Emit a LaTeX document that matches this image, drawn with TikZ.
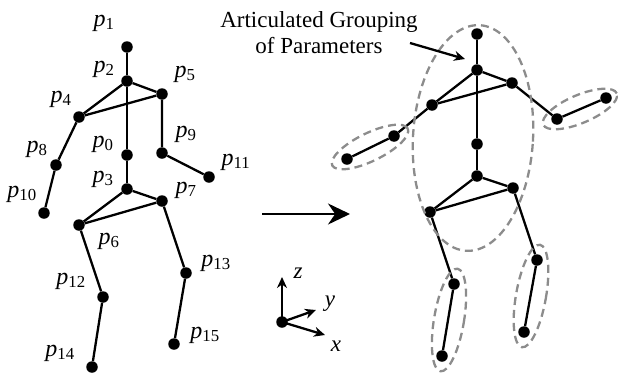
\documentclass[tikz,border=0pt]{standalone}
\usepackage{fontspec}
\setmainfont{Liberation Serif}
\usepackage{tikz}
\usetikzlibrary{arrows.meta, shapes.geometric}
\definecolor{groupgray}{RGB}{140,140,140}
\newcommand{\plab}[1]{\textit{p}\textsubscript{#1}}
\tikzset{
    joint_style/.style={
        circle,               % 关节为实心圆
        fill=black,
        inner sep=0pt,
        minimum size=11.5pt
    },
    bone_style/.style={
        line width=2.3pt      % 骨骼连线
    },
    label_style/.style={
        inner sep=0pt,
        font=\fontsize{24}{28}\selectfont
    },
    group_style/.style={
        ellipse,              % 参数分组的虚线椭圆
        draw=groupgray,
        line width=2.3pt,
        dash pattern=on 8pt off 5pt,
        inner sep=0pt
    },
    arrow_style/.style={
        -{Stealth[length=22pt, width=21pt]},
        line width=2.3pt
    },
    small_arrow_style/.style={
        -{Stealth[length=11pt, width=10pt]},
        line width=2.3pt
    }
}

\begin{document}
\begin{tikzpicture}[x=1pt, y=-1pt]
    \useasboundingbox (0,0) rectangle (618,375);

    % 1. 左侧骨架的关节
    \node[joint_style] (p0) at (127,155) {};
    \node[joint_style] (p1) at (127,47) {};
    \node[joint_style] (p2) at (127,81) {};
    \node[joint_style] (p3) at (127,189) {};
    \node[joint_style] (p4) at (79,117) {};
    \node[joint_style] (p5) at (162,94) {};
    \node[joint_style] (p6) at (79,225) {};
    \node[joint_style] (p7) at (162,201) {};
    \node[joint_style] (p8) at (56,165) {};
    \node[joint_style] (p9) at (162,153) {};
    \node[joint_style] (p10) at (44,213) {};
    \node[joint_style] (p11) at (209,177) {};
    \node[joint_style] (p12) at (103,297) {};
    \node[joint_style] (p13) at (186,273) {};
    \node[joint_style] (p14) at (92,367) {};
    \node[joint_style] (p15) at (174,344) {};

    % 2. 左侧骨架的标签
    \node[label_style] (l0) at (103,144) {\plab{0}};
    \node[label_style] (l1) at (104,23) {\plab{1}};
    \node[label_style] (l2) at (104,69) {\plab{2}};
    \node[label_style] (l3) at (103,179) {\plab{3}};
    \node[label_style] (l4) at (61,99) {\plab{4}};
    \node[label_style] (l5) at (185,74) {\plab{5}};
    \node[label_style] (l6) at (109,241) {\plab{6}};
    \node[label_style] (l7) at (186,190) {\plab{7}};
    \node[label_style] (l8) at (37,149) {\plab{8}};
    \node[label_style] (l9) at (186,134) {\plab{9}};
    \node[label_style] (l10) at (22,194) {\plab{10}};
    \node[label_style] (l11) at (236,162) {\plab{11}};
    \node[label_style] (l12) at (71,281) {\plab{12}};
    \node[label_style] (l13) at (216,263) {\plab{13}};
    \node[label_style] (l14) at (60,353) {\plab{14}};
    \node[label_style] (l15) at (205,335) {\plab{15}};

    % 3. 左侧骨架的连线
    \draw[bone_style] (p1) -- (p2) -- (p0) -- (p3);
    \draw[bone_style] (p10) -- (p8) -- (p4) -- (p2) -- (p5) -- (p9) -- (p11);
    \draw[bone_style] (p4) -- (p5);
    \draw[bone_style] (p14) -- (p12) -- (p6) -- (p3) -- (p7) -- (p13) -- (p15);
    \draw[bone_style] (p6) -- (p7);

    % 4. 中间的箭头和坐标轴
    \coordinate (map_start) at (262,214);
    \coordinate (map_end) at (350,214);
    \draw[arrow_style] (map_start) -- (map_end);

    \node[joint_style] (axis_o) at (282,322) {};
    \coordinate (axis_z) at (282,277);
    \coordinate (axis_y) at (316,310);
    \coordinate (axis_x) at (325,335);
    \draw[small_arrow_style] (axis_o.center) -- (axis_z);
    \draw[small_arrow_style] (axis_o.center) -- (axis_y);
    \draw[small_arrow_style] (axis_o.center) -- (axis_x);
    \node[label_style, font=\fontsize{23}{26}\selectfont\itshape] (lz) at (298,273) {z};
    \node[label_style, font=\fontsize{23}{26}\selectfont\itshape] (ly) at (330,304) {y};
    \node[label_style, font=\fontsize{23}{26}\selectfont\itshape] (lx) at (336,346) {x};

    % 5. 右侧骨架的关节
    \node[joint_style] (q0) at (477,144) {};
    \node[joint_style] (q1) at (477,34) {};
    \node[joint_style] (q2) at (477,70) {};
    \node[joint_style] (q3) at (477,176) {};
    \node[joint_style] (q4) at (432,105) {};
    \node[joint_style] (q5) at (512,83) {};
    \node[joint_style] (q6) at (430,212) {};
    \node[joint_style] (q7) at (513,188) {};
    \node[joint_style] (q8) at (394,136) {};
    \node[joint_style] (q9) at (557,119) {};
    \node[joint_style] (q10) at (347,159) {};
    \node[joint_style] (q11) at (606,98) {};
    \node[joint_style] (q12) at (454,284) {};
    \node[joint_style] (q13) at (537,260) {};
    \node[joint_style] (q14) at (442,356) {};
    \node[joint_style] (q15) at (524,332) {};

    % 6. 右侧骨架的连线
    \draw[bone_style] (q1) -- (q2) -- (q0) -- (q3);
    \draw[bone_style] (q10) -- (q8) -- (q4) -- (q2) -- (q5) -- (q9) -- (q11);
    \draw[bone_style] (q4) -- (q5);
    \draw[bone_style] (q14) -- (q12) -- (q6) -- (q3) -- (q7) -- (q13) -- (q15);
    \draw[bone_style] (q6) -- (q7);

    % 7. 参数分组
    \node[group_style, minimum width=120pt, minimum height=226pt, rotate=-3.5] (g_torso) at (473,138) {};
    \node[group_style, minimum width=84pt, minimum height=28pt, rotate=26] (g_larm) at (370,147) {};
    \node[group_style, minimum width=80pt, minimum height=28pt, rotate=23] (g_rarm) at (580,109) {};
    \node[group_style, minimum width=30pt, minimum height=104pt, rotate=-9.5] (g_lleg) at (449,320) {};
    \node[group_style, minimum width=30pt, minimum height=104pt, rotate=-10] (g_rleg) at (531,296) {};

    % 8. 说明文字
    \node[label_style, font=\fontsize{23}{26}\selectfont, align=center, anchor=north] (caption) at (319,11)
        {Articulated Grouping\\of Parameters};
    \coordinate (call_start) at (410,43);
    \coordinate (call_end) at (465,59);
    \draw[small_arrow_style] (call_start) -- (call_end);
\end{tikzpicture}
\end{document}
